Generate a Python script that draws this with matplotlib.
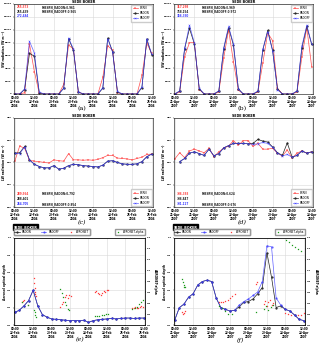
import numpy as np
import matplotlib
matplotlib.use("Agg")
import matplotlib.pyplot as plt
import logging
logging.getLogger("matplotlib.font_manager").setLevel(logging.ERROR)

# ---------------- data ----------------
hours = np.arange(0, 85, 3)
xtick_pos = [0, 12, 24, 36, 48, 60, 72, 84]
xticks_feb = ["00:00\n22-Feb\n2004", "12:00\n22-Feb\n2004", "00:00\n23-Feb\n2004", "12:00\n23-Feb\n2004",
              "00:00\n24-Feb\n2004", "12:00\n24-Feb\n2004", "00:00\n25-Feb\n2004", "12:00\n25-Feb\n2004"]
xticks_apr = ["00:00\n21-Apr\n2007", "12:00\n21-Apr\n2007", "00:00\n22-Apr\n2007", "12:00\n22-Apr\n2007",
              "00:00\n23-Apr\n2007", "12:00\n23-Apr\n2007", "00:00\n24-Apr\n2007", "12:00\n24-Apr\n2007"]

# (a) SW Feb 2004
sw_feb_bsrn = [0, 0, 200, 7800, 3500, 100, 0, 0,
               0, 0, 1500, 7600, 7000, 300, 0, 0,
               0, 0, 2600, 7500, 6800, 200, 0, 0,
               0, 0, 2900, 7900, 6300]
sw_feb_radon = [0, 0, 700, 6300, 5900, 200, 0, 0,
                0, 0, 900, 8600, 6800, 300, 0, 0,
                0, 0, 900, 8700, 6600, 300, 0, 0,
                0, 0, 1000, 8500, 6100]
sw_feb_radoff = [0, 0, 800, 8200, 6400, 300, 0, 0,
                 0, 0, 900, 8700, 7000, 350, 0, 0,
                 0, 0, 1000, 8600, 6500, 400, 0, 0,
                 0, 0, 1100, 8600, 6200]
# (b) SW Apr 2007
sw_apr_bsrn = [0, 300, 5800, 8000, 8000, 700, 0, 0,
               0, 300, 5600, 10000, 5000, 600, 0, 0,
               0, 300, 4800, 9500, 8300, 900, 0, 0,
               0, 300, 5800, 10300, 4200]
sw_apr_radon = [0, 450, 7000, 10200, 7800, 800, 0, 0,
                0, 450, 7000, 10300, 7600, 800, 0, 0,
                0, 400, 6800, 9900, 6800, 800, 0, 0,
                0, 450, 7200, 10500, 7700]
sw_apr_radoff = [0, 500, 7100, 10700, 7950, 900, 0, 0,
                 0, 500, 7200, 10500, 7800, 800, 0, 0,
                 0, 500, 7000, 9700, 6700, 700, 0, 0,
                 0, 500, 7500, 10700, 7800]
# (c) LW Feb 2004
lw_feb_bsrn = [303, 337, 332, 305, 303, 302, 300, 299, 306, 304, 303, 320, 306, 306, 305,
               306, 305, 307, 311, 316, 316, 310, 309, 308, 306, 309, 312, 318, 319]
lw_feb_radon = [321, 322, 336, 306, 296, 291, 288, 288, 293, 285, 287, 293, 296, 295, 293,
                292, 291, 290, 294, 303, 304, 300, 297, 296, 296, 297, 302, 313, 319]
lw_feb_radoff = [321, 320, 335, 306, 296, 291, 288, 288, 293, 285, 287, 293, 296, 295, 293,
                 292, 291, 290, 294, 303, 304, 300, 297, 296, 296, 297, 302, 313, 319]
# (d) LW Apr 2007
lw_apr_bsrn = [308, 322, 311, 326, 330, 326, 322, 332, 313, 324, 332, 337, 349, 339, 349,
               349, 336, 343, 330, 330, 332, 321, 315, 328, 310, 321, 326, 321, 324]
lw_apr_radon = [np.nan, 302, 309, 321, 324, 320, 316, 330, 315, 320, 333, 338, 343, 343, 343,
                342, 343, 352, 348, 346, 335, 322, 316, 344, 312, 316, 326, 321, 324]
lw_apr_radoff = [np.nan, 302, 309, 321, 324, 320, 316, 330, 315, 320, 333, 338, 343, 343, 343,
                 342, 341, 342, 345, 343, 334, 321, 315, 318, 312, 316, 326, 321, 324]

# (e) AOD Feb 2004
aod_feb_radon = [0.145, 0.17, 0.22, 0.28, 0.40, 0.22, 0.12, 0.09, 0.07, 0.065, 0.06, 0.055, 0.05, 0.05, 0.05,
                 0.055, 0.03, 0.05, 0.06, 0.065, 0.07, 0.075, 0.07, 0.075, 0.08, 0.08, 0.075, 0.08, 0.08]
aod_feb_radoff = [0.145, 0.17, 0.22, 0.28, 0.40, 0.22, 0.12, 0.09, 0.07, 0.065, 0.06, 0.055, 0.05, 0.05, 0.05,
                  0.055, 0.03, 0.05, 0.06, 0.065, 0.07, 0.075, 0.07, 0.075, 0.08, 0.08, 0.075, 0.08, 0.08]
aeronet_feb_t = [4.5, 5.2, 6.0, 8.5, 12.3, 12.6, 12.9, 13.1, 13.4, 13.6, 29.5, 30.5, 31.5, 32.5, 33.5, 34.5,
                 35.5, 36.5, 52.0, 53.0, 54.0, 55.0, 56.0, 57.0, 58.0, 59.0, 60.0, 61.0,
                 76.5, 77.5, 78.5, 79.5, 80.5, 81.5, 82.5, 83.5]
aeronet_feb_aod = [0.27, 0.28, 0.29, 0.23, 0.54, 0.48, 0.42, 0.38, 0.36, 0.33, 0.21, 0.24, 0.27, 0.32, 0.34,
                   0.31, 0.35, 0.33, 0.38, 0.39, 0.37, 0.36, 0.35, 0.37, 0.39, 0.38, 0.40, 0.40,
                   0.20, 0.19, 0.21, 0.20, 0.19, 0.21, 0.22, 0.21]
alpha_feb_t = [4.8, 8.5, 12.5, 13.0, 13.5, 14.0, 29.5, 30.5, 31.5, 32.5, 33.5, 34.5, 35.5,
               52.0, 53.5, 55.0, 56.5, 58.0, 59.5, 61.0, 76.5, 78.0, 79.5, 81.0, 82.5, 83.5]
alpha_feb = [0.43, 0.37, 0.27, 0.23, 0.19, 0.15, 0.67, 0.58, 0.52, 0.43, 0.37, 0.29, 0.27,
             0.17, 0.16, 0.17, 0.18, 0.19, 0.20, 0.20, 0.30, 0.32, 0.34, 0.38, 0.43, 0.46]

# (f) AOD Apr 2007
aod_apr_radon = [0.057, 0.20, 0.24, 0.32, 0.36, 0.46, 0.50, 0.515, 0.50, 0.31, 0.20, 0.18, 0.16, 0.17, 0.21,
                 0.26, 0.27, 0.30, 0.36, 0.43, 0.83, 0.55, 0.20, 0.22, 0.18, 0.16, 0.115, 0.065, 0.05]
aod_apr_radoff = [0.057, 0.20, 0.24, 0.32, 0.36, 0.46, 0.50, 0.515, 0.50, 0.31, 0.20, 0.18, 0.16, 0.17, 0.23,
                  0.27, 0.30, 0.34, 0.38, 0.50, 0.91, 0.90, 0.31, 0.23, 0.18, 0.16, 0.115, 0.065, 0.05]
aeronet_apr_t = [4.7, 5.5, 6.3, 7.0, 28.7, 30.0, 31.5, 33.0, 34.5, 36.0, 37.5, 39.0, 53.0, 53.6,
                 58.0, 59.0, 60.0, 61.0, 62.0, 63.0, 64.0, 72.0, 74.0, 76.0, 78.0, 80.0, 82.0, 84.0]
aeronet_apr_aod = [0.15, 0.13, 0.14, 0.16, 0.26, 0.27, 0.26, 0.28, 0.29, 0.31, 0.33, 0.36, 0.47, 0.49,
                   0.24, 0.28, 0.22, 0.26, 0.29, 0.23, 0.25, 0.14, 0.13, 0.12, 0.12, 0.11, 0.12, 0.14]
alpha_apr_t = [4.8, 5.3, 5.8, 6.3, 7.0, 29.0, 31.0, 33.0, 35.0, 37.0, 53.0,
               58.0, 59.5, 61.0, 62.5, 64.0, 72.5, 74.5, 76.5, 78.5, 80.5, 82.5]
alpha_apr = [0.84, 0.80, 0.73, 0.70, 0.69, 0.35, 0.32, 0.26, 0.21, 0.20, 0.23,
             0.30, 0.35, 0.27, 0.33, 0.37, 1.56, 1.53, 1.47, 1.44, 1.40, 1.36]

stats_a = ["255.573", "255.439", "272.484", "R-BSRN_RADON:0.961", "R-BSRN_RADOFF:0.965"]
stats_b = ["317.298", "358.154", "366.330", "R-BSRN_RADON:0.969", "R-BSRN_RADOFF:0.972"]
stats_c = ["289.564", "288.401", "264.705", "R-BSRN_RADON:0.792", "R-BSRN_RADOFF:0.854"]
stats_d = ["336.393", "336.847", "331.127", "R-BSRN_RADON:0.624", "R-BSRN_RADOFF:0.676"]

# ---------------- style ----------------
FS = 2.0
YFS = 1.6
C_RED, C_BLK, C_BLU, C_GRN = "#ff3b3b", "#222222", "#3a3aff", "#1a9a1a"
W, H = 320, 344
fig = plt.figure(figsize=(W / 100, H / 100), dpi=100)


def rect(l, t, r, b):
    return [l / W, 1 - b / H, (r - l) / W, (b - t) / H]


def style(ax, labels):
    ax.set_xlim(-0.8, 84.8)
    ax.set_xticks(xtick_pos)
    ax.set_xticklabels(labels, fontsize=FS, fontweight="bold", linespacing=1.05)
    ax.tick_params(axis="both", labelsize=FS, length=1.0, width=0.3, pad=0.5)
    for s in ax.spines.values():
        s.set_linewidth(0.4)
    ax.grid(True, color="#d8d8d8", linewidth=0.4)
    ax.set_axisbelow(True)


def rad_panel(ax, bsrn, radon, radoff, labels, ylim, yticks, ylabel, stats, leg_loc, text_y):
    style(ax, labels)
    ax.plot(hours, bsrn, color=C_RED, lw=0.5, marker="+", ms=1.4, mew=0.35, alpha=0.9, label="BSRN")
    ax.plot(hours, radon, color=C_BLK, lw=0.5, marker=".", ms=1.2, label="RADON")
    ax.plot(hours, radoff, color=C_BLU, lw=0.5, marker="x", ms=1.2, mew=0.35, alpha=0.8, label="RADOFF")
    ax.set_ylim(*ylim)
    ax.set_yticks(yticks)
    ax.set_yticklabels([str(v) for v in yticks], fontsize=YFS, fontweight="bold")
    ax.set_ylabel(ylabel, fontsize=2.2, fontweight="bold", va="center")
    ax.yaxis.set_label_coords(-0.068, 0.5)
    ax.set_title("SEDE BOKER", fontsize=2.4, fontweight="bold", pad=0.8)
    cols = [C_RED, C_BLK, C_BLU]
    for i in range(3):
        ax.text(0.02, text_y[i], stats[i], color=cols[i], fontsize=FS, fontweight="bold",
                transform=ax.transAxes, va="center")
    ax.text(0.2, text_y[0], stats[3], color=C_BLK, fontsize=FS, fontweight="bold",
            transform=ax.transAxes, va="center")
    ax.text(0.2, text_y[1] if leg_loc == "upper right" else text_y[2], stats[4], color=C_BLK,
            fontsize=FS, fontweight="bold", transform=ax.transAxes, va="center")
    ax.legend(loc=leg_loc, fontsize=FS, handlelength=1.8, handletextpad=0.8, borderpad=0.5,
              labelspacing=0.4, borderaxespad=0.3, frameon=True, fancybox=False,
              edgecolor="#cccccc", framealpha=1)


ax_a = fig.add_axes(rect(13.5, 4, 153, 94))
ax_b = fig.add_axes(rect(173.5, 4, 313, 94))
ax_c = fig.add_axes(rect(13.5, 118, 153, 207))
ax_d = fig.add_axes(rect(173.5, 118, 313, 207))
ax_e = fig.add_axes(rect(13.5, 238, 145, 325))
ax_f = fig.add_axes(rect(173.5, 238, 305, 325))

sw_ticks = list(range(0, 14001, 2000))
lw_ticks = [200, 250, 300, 350, 400]
top_y = [0.965, 0.915, 0.865]
bot_y = [0.15, 0.09, 0.03]
rad_panel(ax_a, sw_feb_bsrn, sw_feb_radon, sw_feb_radoff, xticks_feb, (0, 14000), sw_ticks,
          "SW radiation (W m⁻²)", stats_a, "upper right", top_y)
rad_panel(ax_b, sw_apr_bsrn, sw_apr_radon, sw_apr_radoff, xticks_apr, (0, 14000), sw_ticks,
          "SW radiation (W m⁻²)", stats_b, "upper right", top_y)
rad_panel(ax_c, lw_feb_bsrn, lw_feb_radon, lw_feb_radoff, xticks_feb, (200, 400), lw_ticks,
          "LW radiation (W m⁻²)", stats_c, "lower right", bot_y)
rad_panel(ax_d, lw_apr_bsrn, lw_apr_radon, lw_apr_radoff, xticks_apr, (200, 400), lw_ticks,
          "LW radiation (W m⁻²)", stats_d, "lower right", bot_y)


def aod_panel(ax, radon, radoff, at, aod, alt, alpha, labels, rlab_x):
    style(ax, labels)
    l1, = ax.plot(hours, radon, color=C_BLK, lw=0.5, marker=".", ms=1.2, label="RADON")
    l2, = ax.plot(hours, radoff, color=C_BLU, lw=0.5, marker=".", ms=1.2, alpha=0.8, label="RADOFF")
    l3 = ax.scatter(at, aod, color=C_RED, marker="x", s=0.7, linewidths=0.4, label="AERONET")
    ax.set_ylim(0, 1.0)
    ax.set_yticks([0.0, 0.2, 0.4, 0.6, 0.8, 1.0])
    ax.set_yticklabels(["0.0", "0.2", "0.4", "0.6", "0.8", "1.0"], fontsize=YFS, fontweight="bold")
    ax.set_ylabel("Aerosol optical depth", fontsize=2.2, fontweight="bold", va="center")
    ax.yaxis.set_label_coords(-0.065, 0.5)
    ax2 = ax.twinx()
    l4 = ax2.scatter(alt, alpha, color=C_GRN, marker="x", s=0.7, linewidths=0.4, label="AERONET-alpha")
    ax2.set_ylim(0, 1.6)
    ax2.set_yticks([0.0, 0.2, 0.4, 0.6, 0.8, 1.0, 1.2, 1.4, 1.6])
    ax2.set_yticklabels(["0.0", "0.2", "0.4", "0.6", "0.8", "1.0", "1.2", "1.4", "1.6"],
                        fontsize=YFS, fontweight="bold")
    ax2.tick_params(axis="y", length=1.0, width=0.3, pad=0.5)
    for s in ax2.spines.values():
        s.set_linewidth(0.4)
    ax2.set_ylabel("AERONET-alpha", fontsize=2.2, fontweight="bold", rotation=270, va="center")
    ax2.yaxis.set_label_coords(rlab_x, 0.5)
    leg1 = ax.legend(handles=[l1, l2, l3], loc="lower left", bbox_to_anchor=(0.0, 1.04), ncol=3,
                     fontsize=FS, handlelength=2.0, columnspacing=3.2, borderpad=0.35,
                     frameon=True, fancybox=False, edgecolor="#999999", framealpha=1, borderaxespad=0)
    ax.add_artist(leg1)
    ax2.legend(handles=[l4], loc="lower right", bbox_to_anchor=(1.0, 1.04), fontsize=FS,
               handlelength=1.5, borderpad=0.35, frameon=True, fancybox=False, edgecolor="#999999",
               framealpha=1, borderaxespad=0)
    ax.text(0.0, 1.105, "SEDE_BOKER", transform=ax.transAxes, fontsize=2.4, fontweight="bold",
            color="white", va="bottom", ha="left",
            bbox=dict(boxstyle="square,pad=0.25", fc="black", ec="black"))


aod_panel(ax_e, aod_feb_radon, aod_feb_radoff, aeronet_feb_t, aeronet_feb_aod, alpha_feb_t, alpha_feb,
          xticks_feb, 1.075)
aod_panel(ax_f, aod_apr_radon, aod_apr_radoff, aeronet_apr_t, aeronet_apr_aod, alpha_apr_t, alpha_apr,
          xticks_apr, 1.08)

serif = ["DejaVu Serif"]
fig.text(82 / W, 1 - 109 / H, "(a)", fontsize=4.5, family=serif, ha="center", va="center")
fig.text(242 / W, 1 - 109 / H, "(b)", fontsize=4.5, family=serif, ha="center", va="center")
fig.text(82 / W, 1 - 223 / H, "(c)", fontsize=4.5, family=serif, style="italic", ha="center", va="center")
fig.text(242 / W, 1 - 223 / H, "(d)", fontsize=4.5, family=serif, style="italic", ha="center", va="center")
fig.text(80 / W, 1 - 340 / H, "(e)", fontsize=4.5, family=serif, style="italic", ha="center", va="center")
fig.text(240 / W, 1 - 340 / H, "(f)", fontsize=4.5, family=serif, style="italic", ha="center", va="center")

fig.savefig("out.png", dpi=100)
